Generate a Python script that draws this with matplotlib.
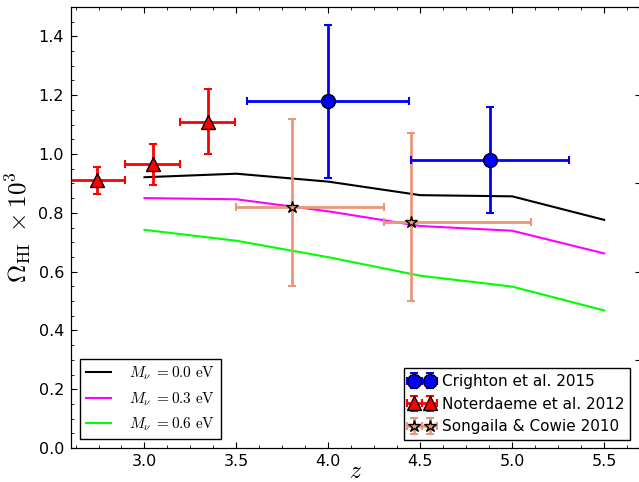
import matplotlib
matplotlib.use('Agg')
import matplotlib.pyplot as plt
from matplotlib.ticker import MultipleLocator

plt.rcParams['mathtext.fontset'] = 'cm'
plt.rcParams['font.family'] = 'DejaVu Sans'

# model curves
z_model = [3.0, 3.5, 4.0, 4.5, 5.0, 5.5]
omega_m00 = [0.921, 0.933, 0.906, 0.860, 0.856, 0.776]
omega_m03 = [0.850, 0.846, 0.805, 0.755, 0.739, 0.662]
omega_m06 = [0.742, 0.705, 0.649, 0.586, 0.549, 0.468]

# Crighton et al. 2015
z_cr = [4.0, 4.88]
om_cr = [1.18, 0.98]
zerr_cr = [0.44, 0.43]
omerr_cr = [0.26, 0.18]

# Noterdaeme et al. 2012
z_no = [2.74, 3.045, 3.345]
om_no = [0.91, 0.965, 1.11]
zerr_no = [0.155, 0.15, 0.15]
omerr_no = [0.045, 0.07, 0.11]

# Songaila & Cowie 2010
z_sc = [3.8, 4.45]
om_sc = [0.82, 0.77]
zerr_sc_lo = [0.30, 0.15]
zerr_sc_hi = [0.50, 0.65]
omerr_sc_lo = [0.27, 0.27]
omerr_sc_hi = [0.30, 0.30]

fig = plt.figure(figsize=(6.39, 4.82), dpi=100)
ax = fig.add_axes([0.111, 0.0705, 0.892, 0.915])

l1, = ax.plot(z_model, omega_m00, color='black', lw=1.5, label=r'$M_\nu\;{=}0.0\ \mathrm{eV}$')
l2, = ax.plot(z_model, omega_m03, color='magenta', lw=1.5, label=r'$M_\nu\;{=}0.3\ \mathrm{eV}$')
l3, = ax.plot(z_model, omega_m06, color='lime', lw=1.5, label=r'$M_\nu\;{=}0.6\ \mathrm{eV}$')

e1 = ax.errorbar(z_cr, om_cr, xerr=zerr_cr, yerr=omerr_cr, fmt='o', color='blue',
                 mfc='blue', mec='black', ms=10, elinewidth=2, capsize=3, capthick=1.5,
                 label='Crighton et al. 2015', zorder=5)
e2 = ax.errorbar(z_no, om_no, xerr=zerr_no, yerr=omerr_no, fmt='^', color='red',
                 mfc='red', mec='black', ms=10, elinewidth=2, capsize=3, capthick=1.5,
                 label='Noterdaeme et al. 2012', zorder=5)
e3 = ax.errorbar(z_sc, om_sc, xerr=[zerr_sc_lo, zerr_sc_hi], yerr=[omerr_sc_lo, omerr_sc_hi],
                 fmt='*', color='darksalmon', mfc='darksalmon', mec='black', ms=9,
                 elinewidth=2, capsize=3, capthick=1.5,
                 label='Songaila & Cowie 2010', zorder=4)

ax.set_xlim(2.6, 5.7)
ax.set_ylim(0, 1.5)
ax.xaxis.set_major_locator(MultipleLocator(0.5))
ax.xaxis.set_minor_locator(MultipleLocator(0.125))
ax.yaxis.set_major_locator(MultipleLocator(0.2))
ax.yaxis.set_minor_locator(MultipleLocator(0.05))
ax.tick_params(which='both', direction='in', top=True, right=False, labelsize=11.5)
ax.tick_params(which='major', length=4)
ax.tick_params(which='minor', length=2)
ax.tick_params(axis='y', pad=5)
ax.tick_params(axis='x', pad=4)

ax.set_xlabel(r'$z$', fontsize=17, labelpad=-7)
ax.set_ylabel(r'$\Omega_{\rm HI}\ \times 10^3$', fontsize=18, labelpad=4)

# right axis ticks
ax2 = ax.twinx()
ax2.set_ylim(0, 1.5)
ax2.yaxis.set_major_locator(MultipleLocator(0.3))
ax2.tick_params(direction='in', length=4, labelright=False)

leg1 = ax.legend(handles=[l1, l2, l3], loc='lower left', fontsize=11, fancybox=False,
                 edgecolor='black', framealpha=1, handlelength=1.6, handletextpad=1.2,
                 borderaxespad=0.6)
leg1.get_frame().set_linewidth(1.0)
leg2 = ax.legend(handles=[e1, e2, e3], loc='lower right', fontsize=11, fancybox=False,
                 edgecolor='black', framealpha=1, numpoints=2, handlelength=1.6,
                 handletextpad=0.5, borderaxespad=0.5, bbox_to_anchor=(0.995, 0.0))
leg2.get_frame().set_linewidth(1.0)
ax.add_artist(leg1)

fig.savefig('out.png', dpi=100)
